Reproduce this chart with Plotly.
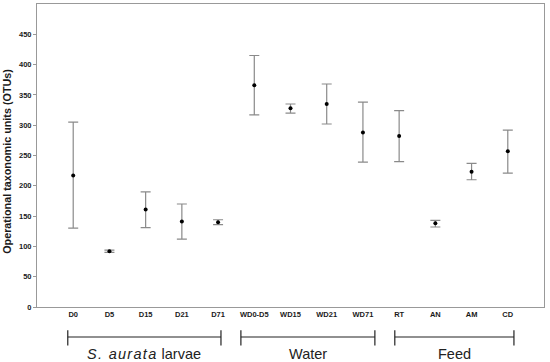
import plotly.graph_objects as go

categories = ["D0", "D5", "D15", "D21", "D71", "WD0-D5", "WD15", "WD21", "WD71", "RT", "AN", "AM", "CD"]
means = [217, 92, 161, 141, 140, 366, 328, 335, 288, 282, 138, 223, 257]
upper = [305, 94, 190, 170, 144, 415, 335, 368, 338, 324, 143, 237, 292]
lower = [130, 90, 131, 112, 136, 317, 320, 302, 239, 240, 132, 210, 221]
y_ticks = [0, 50, 100, 150, 200, 250, 300, 350, 400, 450]

groups = ["<span style='letter-spacing:1.3px'><i>S. aurata</i></span> larvae", "Water", "Feed"]
group_start = [-0.15, 4.63, 8.88]
group_end = [4.08, 8.33, 12.17]

xpos = list(range(len(categories)))
err_plus = [u - m for u, m in zip(upper, means)]
err_minus = [m - l for m, l in zip(means, lower)]

FONT = "Liberation Sans, Arial"

fig = go.Figure()
fig.add_trace(go.Scatter(
    x=xpos, y=means, mode="markers",
    marker=dict(color="black", size=4, symbol="circle"),
    error_y=dict(type="data", symmetric=False, array=err_plus, arrayminus=err_minus,
                 color="#8a8a8a", thickness=1.2, width=5),
    showlegend=False, hoverinfo="skip",
))

shapes = []
annotations = []
for g, s, e in zip(groups, group_start, group_end):
    shapes.append(dict(type="line", xref="x", yref="paper", x0=s, x1=e, y0=-0.099, y1=-0.099,
                       line=dict(color="#222", width=1.2)))
    for xx in (s, e):
        shapes.append(dict(type="line", xref="x", yref="paper", x0=xx, x1=xx, y0=-0.077, y1=-0.127,
                           line=dict(color="#222", width=1.2)))
    annotations.append(dict(x=(s + e) / 2, y=-0.155, xref="x", yref="paper", text=g, showarrow=False,
                            yanchor="middle", font=dict(family=FONT, size=14.5, color="#222")))

# y-axis title as annotation for precise placement
annotations.append(dict(x=-0.058, y=0.481, xref="paper", yref="paper", xanchor="center", yanchor="middle",
                        text="<b>Operational taxonomic units (OTUs)</b>", textangle=-90, showarrow=False,
                        font=dict(family=FONT, size=10.8, color="#1a1a1a")))

fig.update_layout(
    width=550, height=362,
    margin=dict(l=37, r=6, t=4, b=55, autoexpand=False),
    plot_bgcolor="white", paper_bgcolor="white",
    shapes=shapes, annotations=annotations,
    xaxis=dict(range=[-1, 13], tickmode="array", tickvals=xpos, ticktext=["<b>%s</b>" % c for c in categories],
               showline=True, linecolor="#999", linewidth=1, mirror=True, showgrid=False, zeroline=False,
               ticks="", automargin=False, tickfont=dict(family=FONT, size=7.5, color="#1a1a1a")),
    yaxis=dict(range=[0, 500], tickmode="array", tickvals=y_ticks, ticktext=["<b>%d</b>" % t for t in y_ticks],
               showline=True, linecolor="#999", linewidth=1, mirror=True, showgrid=False, zeroline=False,
               ticks="outside", ticklen=3, tickcolor="#999", automargin=False,
               tickfont=dict(family=FONT, size=7.5, color="#1a1a1a")),
)

fig.write_html("out.html", config={"displayModeBar": False},
               post_script="document.body.style.margin='0';document.body.style.overflow='hidden';")
